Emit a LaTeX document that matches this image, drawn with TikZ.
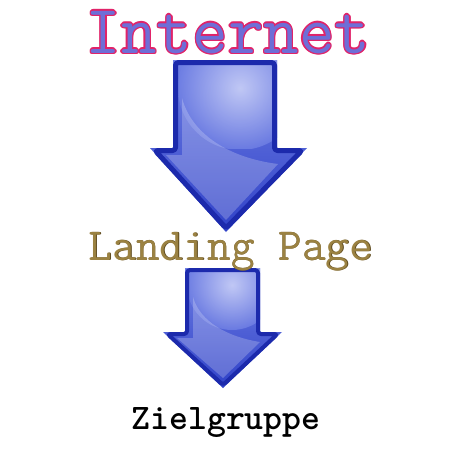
\documentclass[tikz,border=0pt]{standalone}
\usepackage{tikz}
\usetikzlibrary{positioning}
\definecolor{rimblue}{RGB}{28,42,172}
\definecolor{topblue}{RGB}{112,128,228}
\definecolor{lowblue}{RGB}{48,66,200}
\definecolor{glowblue}{RGB}{215,220,250}
\definecolor{netred}{RGB}{225,35,105}
\definecolor{netfill}{RGB}{110,110,215}
\definecolor{landgold}{RGB}{155,130,66}
\definecolor{landrim}{RGB}{95,75,30}

\begin{document}
\begin{tikzpicture} [x=1pt, y=-1pt,
    every node/.style={inner sep=0pt, font=\ttfamily},
    arrowbody/.style={top color=topblue, bottom color=lowblue},
    arrowrim/.style={draw=rimblue, line join=round, rounded corners=3pt},
    gloss/.style={fill=white, opacity=0.22}]
    \useasboundingbox [fill=white] (0,0) rectangle (450,450);

    % big arrow
    \shade [arrowbody] (173,60) -- (277,60) -- (277,148) -- (307,148)
      -- (226,232) -- (150,148) -- (173,148) -- cycle;
    \begin{scope}
      \clip (173,60) -- (277,60) -- (277,148) -- (173,148) -- cycle;
      \shade [inner color=glowblue, outer color=topblue, opacity=0.8] (240,88) circle (62);
    \end{scope}
    \fill [gloss] (182,98) .. controls (192,135) and (230,158) .. (278,164)
      -- (226,220) -- (166,155) -- (182,155) -- cycle;
    \draw [arrowrim, line width=5pt] (175.5,62.5) -- (274.5,62.5) -- (274.5,150.5)
      -- (302,150.5) -- (226,228) -- (155,150.5) -- (175.5,150.5) -- cycle;

    % small arrow
    \shade [arrowbody] (185,268) -- (260,268) -- (260,332) -- (282,332)
      -- (223,388) -- (163,332) -- (185,332) -- cycle;
    \begin{scope}
      \clip (185,268) -- (260,268) -- (260,332) -- (185,332) -- cycle;
      \shade [inner color=glowblue, outer color=topblue, opacity=0.8] (232,285) circle (45);
    \end{scope}
    \fill [gloss] (193,297) .. controls (200,322) and (228,337) .. (260,342)
      -- (223,378) -- (177,338) -- (193,338) -- cycle;
    \draw [arrowrim, line width=4pt] (187,270) -- (258,270) -- (258,334)
      -- (277.5,334) -- (223,385) -- (167.5,334) -- (187,334) -- cycle;

    % texts
    \foreach \dx/\dy [count=\i] in {1.4/0,-1.4/0,0/1.4,0/-1.4,1/1,-1/1,1/-1,-1/-1}
      \node (netglow\i) [anchor=base, text=netred] at (228+\dx,53+\dy)
        {\fontsize{69}{70}\selectfont Internet};
    \node (net) [anchor=base, text=netfill] at (228,53)
      {\fontsize{69}{70}\selectfont Internet};

    \node (landrim) [anchor=base, text=landrim] at (231.6,260.6)
      {\fontsize{46}{48}\selectfont Landing Page};
    \node (landing) [anchor=base, text=landgold] at (231,260)
      {\fontsize{46}{48}\selectfont Landing Page};

    \node (ziel) [anchor=base] at (226,429)
      {\fontsize{36}{38}\selectfont\bfseries Zielgruppe};
  \end{tikzpicture}
\end{document}
